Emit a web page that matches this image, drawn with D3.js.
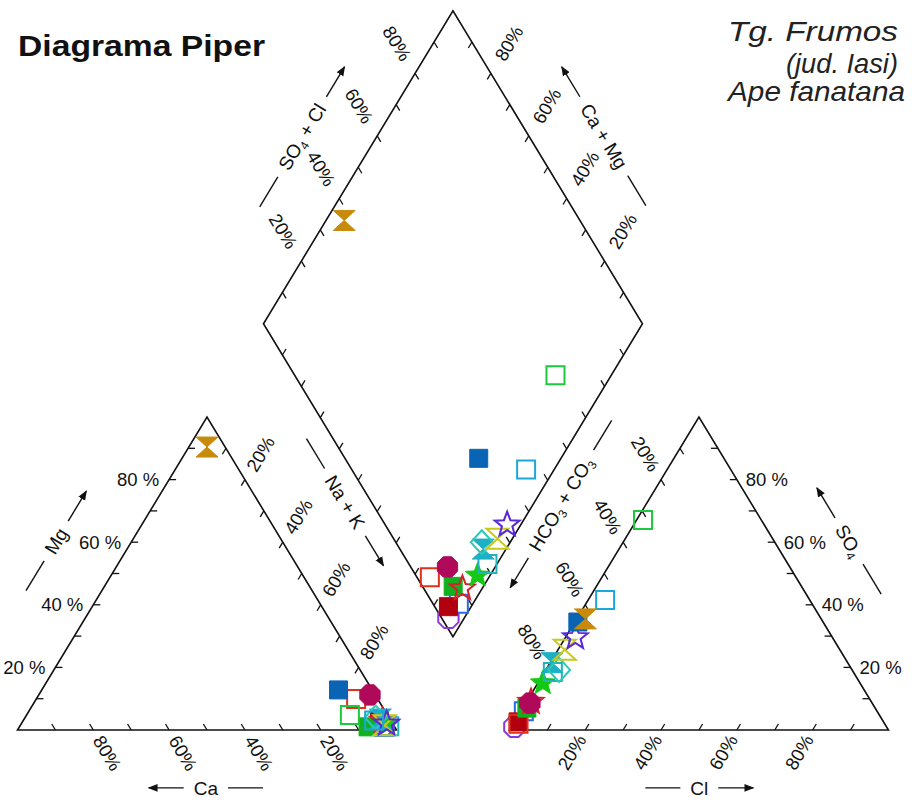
<!DOCTYPE html>
<html>
<head>
<meta charset="utf-8">
<script src="https://cdn.jsdelivr.net/npm/d3@7"></script>
<style>
  body { margin: 0; background: #fff; }
  svg { display: block; font-family: Arial, "Liberation Sans", sans-serif; }
</style>
</head>
<body>
<div id="chart-area"></div>
<script>
// cations, % meq (left triangle)
const ca  = [2.7, 2.7, 3.0, 5.7, 7.0, 2.2, 1.4, 1.5, 1.3, 2.5, 3.5, 2.4, 1.6, 8.9, 4.4, 9.9, 4.8];
const mg  = [1.5, 1.0, 3.0, 9.9, 1.0, 3.0, 11.2, 1.8, 1.2, 3.5, 4.0, 1.5, 2.0, 12.8, 3.0, 4.8, 90.4];
const naK = [95.8, 96.3, 94.0, 84.4, 92.0, 94.8, 87.4, 96.7, 97.5, 94.0, 92.5, 96.1, 96.4, 78.3, 92.6, 85.3, 4.8];
// anions, % meq (right triangle)
const hco3 = [98.2, 93.2, 96.4, 96.6, 91.9, 89.8, 90.3, 83.7, 79.3, 78.0, 77.3, 72.6, 67.8, 64.7, 54.0, 31.2, 62.2];
const so4  = [1.0, 6.0, 2.6, 2.0, 7.0, 9.0, 8.6, 15.0, 18.5, 21.5, 19.2, 25.6, 29.6, 34.5, 41.5, 67.1, 35.5];
const cl   = [0.8, 0.8, 1.0, 1.4, 1.1, 1.2, 1.1, 1.3, 2.2, 0.5, 3.5, 1.8, 2.6, 0.8, 4.5, 1.7, 2.3];
const tickPct = [20, 40, 60, 80];

// marker style of each sample
const symbols = ["octagon", "square", "square", "square", "square", "star", "octagon", "star", "square",
                 "hourglass", "diamond", "hourglass", "star", "square", "square", "square", "hourglass"];
const colors = ["#8a3ad8", "#2a6ae0", "#b3000f", "#e0301e", "#12b01e", "#d8202a", "#b0095a", "#14c814", "#22b4b8",
                "#1cb0c4", "#2ec8b8", "#c8c81e", "#5a28d8", "#0a64b4", "#1aa8d8", "#1ec83c", "#c88a0a"];
const filled = [false, false, true, false, true, false, true, true, false,
                true, false, false, false, true, false, false, true];

const svg = d3.select("#chart-area").append("svg")
    .attr("width", 912)
    .attr("height", 803);

svg.append("defs").append("marker")
    .attr("id", "arr")
    .attr("viewBox", "0 0 10 10")
    .attr("refX", 9).attr("refY", 5)
    .attr("markerWidth", 7).attr("markerHeight", 7)
    .attr("orient", "auto")
  .append("path")
    .attr("d", "M0,1L10,5L0,9Z")
    .attr("fill", "#111");

// unit geometry: triangle side = 1, gap between triangles
const hh = Math.sqrt(3) / 2, gap = 0.298;
const x = d3.scaleLinear().domain([0, 2 + gap]).range([17.5, 17.5 + 379 * (2 + gap)]);
const y = d3.scaleLinear().domain([0, hh]).range([730, 417]);

const cat = (c, m, n) => [n + m / 2, m * hh];
const ani = (h, s, c) => [1 + gap + c + s / 2, s * hh];
const B = [1 + gap / 2, gap * hh], U = [-0.5, hh], V = [0.5, hh];
const dia = (a, b) => [B[0] + a * U[0] + b * V[0], B[1] + a * U[1] + b * V[1]];

const line = d3.line().x(d => x(d[0])).y(d => y(d[1]));

// outlines
const shapes = [
  [cat(1, 0, 0), cat(0, 0, 1), cat(0, 1, 0)],
  [ani(1, 0, 0), ani(0, 0, 1), ani(0, 1, 0)],
  [dia(0, 0), dia(1, 0), dia(1, 1), dia(0, 1)]
];
svg.selectAll("path.frame").data(shapes).join("path")
    .attr("class", "frame")
    .attr("d", d => line(d) + "Z")
    .attr("fill", "none")
    .attr("stroke", "#111")
    .attr("stroke-width", 1.6);

// edges: point for a value, inward tick direction, label mode
const edges = [
  {pt: v => cat(v, 0, 1 - v), dir: [-0.5, hh], lab: "rot", off: 27, sp: ""},
  {pt: v => cat(1 - v, v, 0), dir: [1, 0], lab: "left", sp: " "},
  {pt: v => cat(0, 1 - v, v), dir: [-0.5, -hh], lab: "rot", off: 30, sp: ""},
  {pt: v => ani(1 - v, 0, v), dir: [0.5, hh], lab: "rot", off: 26, sp: ""},
  {pt: v => ani(v, 1 - v, 0), dir: [0.5, -hh], lab: "rot", off: 30, sp: ""},
  {pt: v => ani(0, v, 1 - v), dir: [-1, 0], lab: "right", sp: " "},
  {pt: v => dia(1, v), dir: [0.5, -hh], lab: "rot", off: 35, sp: ""},
  {pt: v => dia(v, 1), dir: [-0.5, -hh], lab: "rot", off: 35, sp: ""},
  {pt: v => dia(v, 0), dir: V, lab: null},
  {pt: v => dia(0, v), dir: U, lab: null}
];

function sdir(p, d) {
  const dx = x(p[0] + d[0]) - x(p[0]), dy = y(p[1] + d[1]) - y(p[1]);
  const n = Math.hypot(dx, dy);
  return [dx / n, dy / n];
}

const tickG = svg.append("g").attr("stroke", "#111").attr("stroke-width", 1.3);
const labG = svg.append("g").attr("font-size", 18.5).attr("fill", "#111");
const steps = d3.range(1, 10).map(i => i / 10);

edges.forEach(e => {
  steps.forEach(v => {
    const p = e.pt(v), s = sdir(p, e.dir);
    tickG.append("line")
      .attr("x1", x(p[0])).attr("y1", y(p[1]))
      .attr("x2", x(p[0]) + s[0] * 7).attr("y2", y(p[1]) + s[1] * 7);
  });
  if (!e.lab) return;
  tickPct.forEach(pc => {
    const p = e.pt(pc / 100), s = sdir(p, e.dir);
    const px = x(p[0]), py = y(p[1]);
    if (e.lab === "rot") {
      let ang = Math.atan2(-s[1], -s[0]) * 180 / Math.PI;
      if (ang > 90) ang -= 180;
      if (ang < -90) ang += 180;
      labG.append("text")
        .attr("transform", `translate(${px - s[0] * e.off},${py - s[1] * e.off}) rotate(${ang})`)
        .attr("text-anchor", "middle")
        .attr("dy", "0.35em")
        .text(pc + e.sp + "%");
    } else {
      labG.append("text")
        .attr("x", e.lab === "left" ? px - 10 : px + 9)
        .attr("y", py)
        .attr("dy", "0.35em")
        .attr("text-anchor", e.lab === "left" ? "end" : "start")
        .text(pc + e.sp + "%");
    }
  });
});

// axis titles with dash and arrow
const titles = [
  {pos: [0.102, 0.604 * hh], ang: -58.8, parts: [["Mg"]], arrow: "end"},
  {pos: [0.497, -0.185 * hh], ang: 0, parts: [["Ca"]], arrow: "start"},
  {pos: [0.864, 0.728 * hh], ang: 58.8, parts: [["Na + K"]], arrow: "end"},
  {pos: [0.751, 1.895 * hh], ang: -58.8, parts: [["SO"], ["4", 1], [" + Cl"]], arrow: "end"},
  {pos: [1.547, 1.897 * hh], ang: 58.8, parts: [["Ca + Mg"]], arrow: "start"},
  {pos: [1.434, 0.722 * hh], ang: -58.8, parts: [["HCO"], ["3", 1], [" + CO"], ["3", 1]], arrow: "start"},
  {pos: [1.799, -0.185 * hh], ang: 0, parts: [["Cl"]], arrow: "end"},
  {pos: [2.194, 0.604 * hh], ang: 58.8, parts: [["SO"], ["4", 1]], arrow: "start"}
];

titles.forEach(t => {
  const g = svg.append("g")
    .attr("transform", `translate(${x(t.pos[0])},${y(t.pos[1])}) rotate(${t.ang})`);
  const txt = g.append("text")
    .attr("text-anchor", "middle")
    .attr("dy", "0.35em")
    .attr("font-size", 19)
    .attr("fill", "#111");
  t.parts.forEach(p => {
    const ts = txt.append("tspan").text(p[0]);
    if (p[1]) ts.attr("font-size", 12).attr("baseline-shift", "-4");
  });
  const w = txt.node().getComputedTextLength() / 2;
  const gp = 10, len = 35;
  const left = [-w - gp - len, -w - gp], right = [w + gp, w + gp + len];
  const dash = t.arrow === "end" ? left : right;
  const arr = t.arrow === "end" ? right : [left[1], left[0]];
  g.append("line").attr("x1", dash[0]).attr("x2", dash[1]).attr("y1", 0).attr("y2", 0)
    .attr("stroke", "#111").attr("stroke-width", 1.4);
  g.append("line").attr("x1", arr[0]).attr("x2", arr[1]).attr("y1", 0).attr("y2", 0)
    .attr("stroke", "#111").attr("stroke-width", 1.4).attr("marker-end", "url(#arr)");
});

// marker symbols
function symPath(type) {
  if (type === "square") return "M-9,-9h18v18h-18Z";
  if (type === "diamond") return "M0,-12L11,0L0,12L-11,0Z";
  if (type === "hourglass") return "M-11,-10L11,-10L0,0ZM-11,10L11,10L0,0Z";
  if (type === "octagon") {
    return "M" + d3.range(8).map(i => {
      const a = Math.PI / 8 + i * Math.PI / 4;
      return [11 * Math.cos(a), 11 * Math.sin(a)];
    }).join("L") + "Z";
  }
  if (type === "star") {
    return "M" + d3.range(10).map(i => {
      const a = -Math.PI / 2 + i * Math.PI / 5, r = i % 2 ? 5.5 : 13;
      return [r * Math.cos(a), r * Math.sin(a)];
    }).join("L") + "Z";
  }
}

const idx = d3.range(ca.length);
const plots = [
  i => cat(ca[i] / 100, mg[i] / 100, naK[i] / 100),
  i => ani(hco3[i] / 100, so4[i] / 100, cl[i] / 100),
  i => dia((ca[i] + mg[i]) / 100, (so4[i] + cl[i]) / 100)
];

plots.forEach(pos => {
  svg.append("g").selectAll("path").data(idx).join("path")
    .attr("transform", i => { const p = pos(i); return `translate(${x(p[0])},${y(p[1])})`; })
    .attr("d", i => symPath(symbols[i]))
    .attr("fill", i => filled[i] ? colors[i] : "none")
    .attr("stroke", i => colors[i])
    .attr("stroke-width", i => filled[i] ? 1 : 2);
});

// headings
svg.append("text")
    .attr("x", 18).attr("y", 56)
    .attr("font-size", 29).attr("font-weight", "bold")
    .attr("textLength", 247).attr("lengthAdjust", "spacingAndGlyphs")
    .attr("fill", "#111")
    .text("Diagrama Piper");

const place = ["Tg. Frumos", "(jud. Iasi)", "Ape fanatana"];
const placeW = [170, 112, 177];
svg.append("g").attr("font-size", 28).attr("font-style", "italic").attr("fill", "#222")
  .selectAll("text").data(place).join("text")
    .attr("x", (d, i) => i === 2 ? 905 : 898)
    .attr("y", (d, i) => [41, 73, 101][i])
    .attr("text-anchor", "end")
    .attr("textLength", (d, i) => placeW[i])
    .attr("lengthAdjust", "spacingAndGlyphs")
    .text(d => d);
</script>
</body>
</html>
